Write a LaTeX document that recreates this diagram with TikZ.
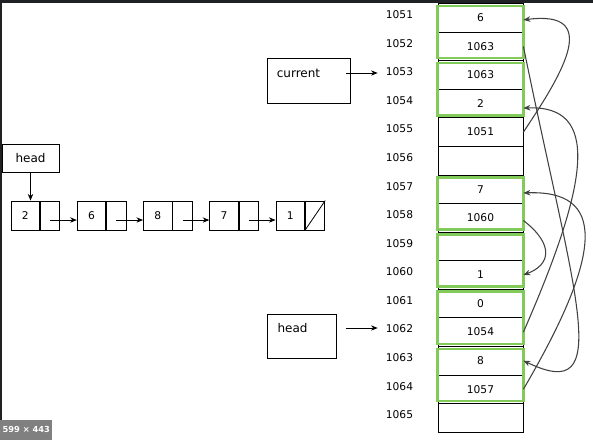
\documentclass[tikz,border=0pt]{standalone}
\usepackage{fontspec}
\setmainfont{DejaVu Sans}
\usetikzlibrary{arrows.meta}
\definecolor{gbox}{RGB}{130,202,90}
\definecolor{curvecol}{RGB}{65,65,65}
\definecolor{framecol}{RGB}{32,33,36}
\definecolor{badgecol}{RGB}{128,128,128}
\tikzset{
  cell/.style={draw=black,line width=0.6pt,minimum width=63.75pt,minimum height=21.43pt,inner sep=0pt,font=\fontsize{8}{9}\selectfont},
  addr/.style={inner sep=0pt,font=\fontsize{8}{9}\selectfont},
  greenbox/.style={draw=gbox,line width=1.9pt},
  ptr/.style={draw=curvecol,line width=0.8pt,-{Stealth[length=5.2pt,width=4.2pt]}},
  lbl/.style={inner sep=0pt,font=\fontsize{9}{10}\selectfont},
  boxn/.style={draw=black,line width=0.6pt,inner sep=0pt},
  vcell/.style={draw=black,line width=0.6pt,minimum width=21.4pt,minimum height=21.75pt,inner sep=0pt,font=\fontsize{8}{9}\selectfont},
  pcell/.style={draw=black,line width=0.6pt,minimum width=14.6pt,minimum height=21.75pt,inner sep=0pt},
  larrow/.style={draw=black,line width=0.6pt,-{Stealth[length=5pt,width=4pt]}}
}
\begin{document}
\begin{tikzpicture}[x=0.75pt,y=-0.75pt]
\useasboundingbox (0,0) rectangle (593,440);
\fill[white] (0,0) rectangle (593,440);
% screenshot frame
\fill[framecol] (0,0) rectangle (593,2.5);
\fill[framecol] (0,0) rectangle (2,420);
% memory cells
\foreach \v [count=\i] in {6,1063,1063,2,1051,{},7,1060,{},1,0,1054,8,1057,{}} {
  \node[cell] (m\i) at (480.5,{3.5+(\i-0.5)*28.5714}) {\v};
  \pgfmathtruncatemacro\num{1050+\i}
  \node[addr] (a\i) at (399.5,{0.5+(\i-0.5)*28.5714}) {\num};
}
% green pair boxes
\foreach \a/\b in {1/2,3/4,7/8,9/10,11/12,13/14} {
  \draw[greenbox] ([yshift=-2.2pt]m\a.north west) rectangle ([yshift=2.2pt]m\b.south east);
}
% pointer curves
\draw[ptr] (m5.east) .. controls (565,70) and (600,10) .. ([yshift=-1.6pt]m1.east);
\draw[ptr] (m2.east) .. controls (575,300) and (615,405) .. (m13.east);
\draw[ptr] (m12.east) .. controls (590,180) and (600,105) .. ([yshift=-3.4pt]m4.east);
\draw[ptr] (m14.east) .. controls (605,250) and (605,190) .. ([yshift=-2.8pt]m7.east);
\draw[ptr] ([yshift=-2pt]m8.east) .. controls (555,245) and (550,265) .. (m10.east);
% current box
\node[boxn,minimum width=62.25pt,minimum height=33.75pt] (cur) at (308.5,80.5) {};
\node[lbl] (curtxt) at (298.5,73) {current};
\draw[larrow] (346,73) -- ([xshift=-6pt]a3.west |- 0,73);
% lower head box
\node[boxn,minimum width=51.75pt,minimum height=33pt] (hd) at (301.5,336) {};
\node[lbl] (hdtxt) at (292.5,328.5) {head};
\draw[larrow] (346,328) -- ([xshift=-6pt]a12.west |- 0,328);
% linked list
\node[boxn,minimum width=42.75pt,minimum height=21pt,font=\fontsize{9}{10}\selectfont] (head) at (30.5,158) {head};
\foreach \v [count=\i] in {2,6,8,7,1} {
  \node[vcell] (v\i) at ({11+66.25*(\i-1)+14.25},215.5) {\v};
  \node[pcell,anchor=west] (p\i) at (v\i.east) {};
}
\draw[larrow] (head.south) -- (head.south |- v1.north);
\foreach \i [evaluate=\i as \j using int(\i+1)] in {1,2,3,4} {
  \draw[larrow] ([yshift=-3.4pt]p\i.center) -- ([yshift=-3.4pt]v\j.west);
}
\draw[line width=0.6pt] (p5.south west) -- (p5.north east);
% size badge
\node[fill=badgecol,text=white,inner sep=0pt,minimum width=39pt,minimum height=15pt,anchor=south west,font=\bfseries\fontsize{6.2}{7}\selectfont] (badge) at (0,440) {599 × 443};
\end{tikzpicture}
\end{document}
